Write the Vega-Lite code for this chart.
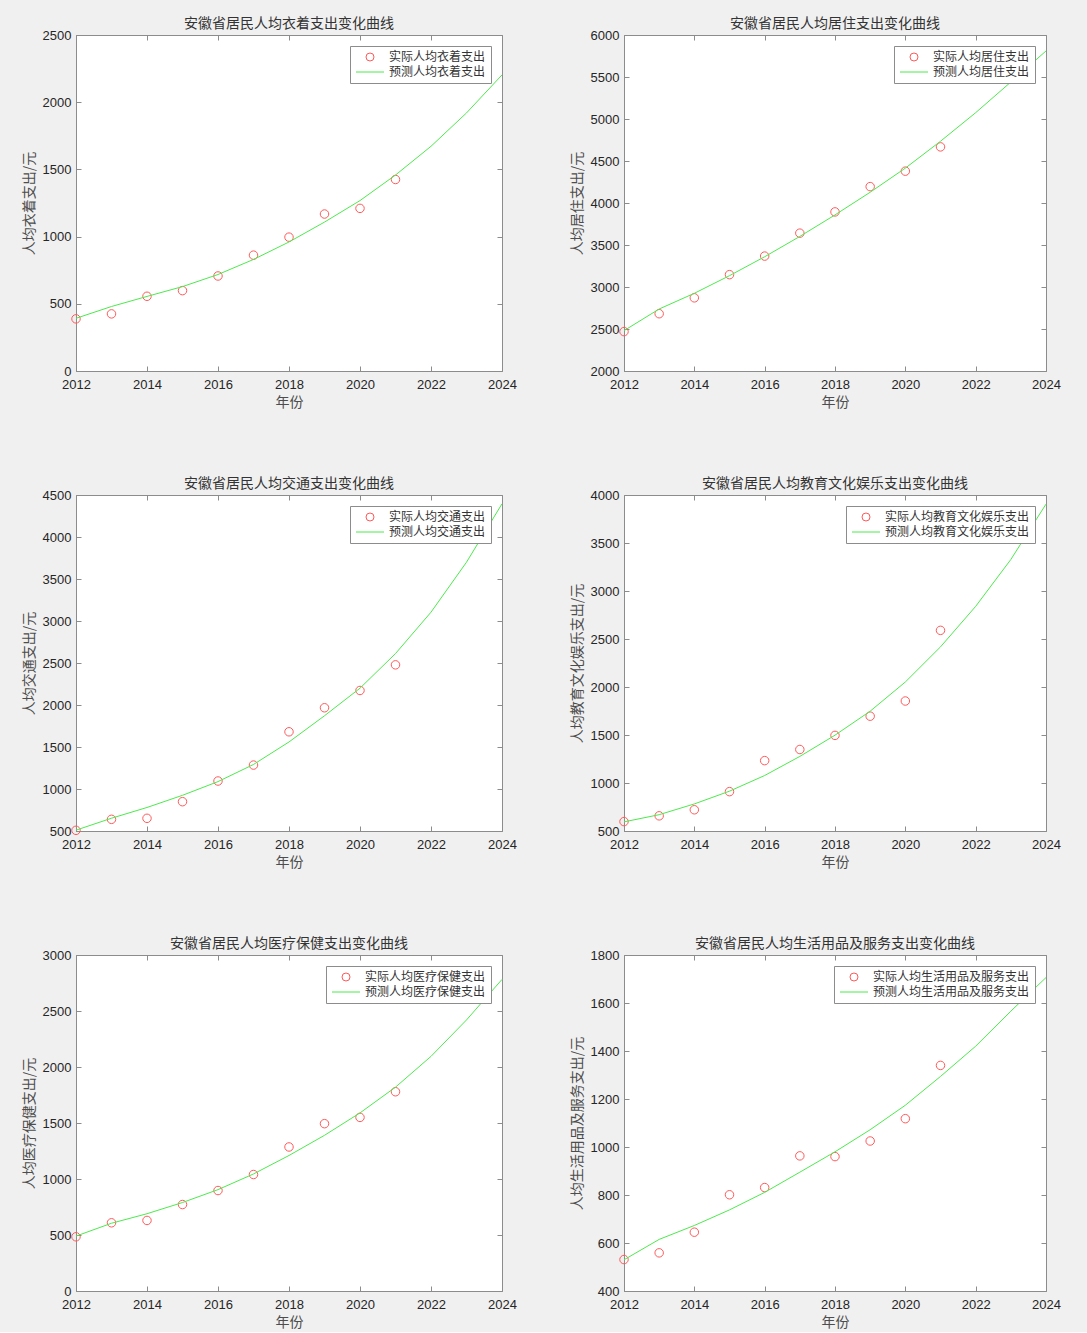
{
  "$schema": "https://vega.github.io/schema/vega-lite/v6.json",
  "autosize": {"type": "pad"},
  "padding": {"left": 21, "top": 16, "right": 40, "bottom": 2},
  "background": "#f0f0f0",
  "datasets": {
    "c1": [
      {"year": 2012, "value": 388, "kind": "actual", "series": "实际人均衣着支出"},
      {"year": 2013, "value": 425, "kind": "actual", "series": "实际人均衣着支出"},
      {"year": 2014, "value": 556, "kind": "actual", "series": "实际人均衣着支出"},
      {"year": 2015, "value": 598, "kind": "actual", "series": "实际人均衣着支出"},
      {"year": 2016, "value": 707, "kind": "actual", "series": "实际人均衣着支出"},
      {"year": 2017, "value": 862, "kind": "actual", "series": "实际人均衣着支出"},
      {"year": 2018, "value": 996, "kind": "actual", "series": "实际人均衣着支出"},
      {"year": 2019, "value": 1168, "kind": "actual", "series": "实际人均衣着支出"},
      {"year": 2020, "value": 1210, "kind": "actual", "series": "实际人均衣着支出"},
      {"year": 2021, "value": 1425, "kind": "actual", "series": "实际人均衣着支出"},
      {"year": 2012, "value": 392, "kind": "pred", "series": "预测人均衣着支出"},
      {"year": 2013, "value": 480, "kind": "pred", "series": "预测人均衣着支出"},
      {"year": 2014, "value": 555, "kind": "pred", "series": "预测人均衣着支出"},
      {"year": 2015, "value": 628, "kind": "pred", "series": "预测人均衣着支出"},
      {"year": 2016, "value": 718, "kind": "pred", "series": "预测人均衣着支出"},
      {"year": 2017, "value": 830, "kind": "pred", "series": "预测人均衣着支出"},
      {"year": 2018, "value": 960, "kind": "pred", "series": "预测人均衣着支出"},
      {"year": 2019, "value": 1108, "kind": "pred", "series": "预测人均衣着支出"},
      {"year": 2020, "value": 1268, "kind": "pred", "series": "预测人均衣着支出"},
      {"year": 2021, "value": 1458, "kind": "pred", "series": "预测人均衣着支出"},
      {"year": 2022, "value": 1672, "kind": "pred", "series": "预测人均衣着支出"},
      {"year": 2023, "value": 1920, "kind": "pred", "series": "预测人均衣着支出"},
      {"year": 2024, "value": 2203, "kind": "pred", "series": "预测人均衣着支出"}
    ],
    "c2": [
      {"year": 2012, "value": 2469, "kind": "actual", "series": "实际人均居住支出"},
      {"year": 2013, "value": 2682, "kind": "actual", "series": "实际人均居住支出"},
      {"year": 2014, "value": 2871, "kind": "actual", "series": "实际人均居住支出"},
      {"year": 2015, "value": 3147, "kind": "actual", "series": "实际人均居住支出"},
      {"year": 2016, "value": 3368, "kind": "actual", "series": "实际人均居住支出"},
      {"year": 2017, "value": 3641, "kind": "actual", "series": "实际人均居住支出"},
      {"year": 2018, "value": 3894, "kind": "actual", "series": "实际人均居住支出"},
      {"year": 2019, "value": 4195, "kind": "actual", "series": "实际人均居住支出"},
      {"year": 2020, "value": 4379, "kind": "actual", "series": "实际人均居住支出"},
      {"year": 2021, "value": 4668, "kind": "actual", "series": "实际人均居住支出"},
      {"year": 2012, "value": 2480, "kind": "pred", "series": "预测人均居住支出"},
      {"year": 2013, "value": 2738, "kind": "pred", "series": "预测人均居住支出"},
      {"year": 2014, "value": 2925, "kind": "pred", "series": "预测人均居住支出"},
      {"year": 2015, "value": 3135, "kind": "pred", "series": "预测人均居住支出"},
      {"year": 2016, "value": 3360, "kind": "pred", "series": "预测人均居住支出"},
      {"year": 2017, "value": 3602, "kind": "pred", "series": "预测人均居住支出"},
      {"year": 2018, "value": 3858, "kind": "pred", "series": "预测人均居住支出"},
      {"year": 2019, "value": 4128, "kind": "pred", "series": "预测人均居住支出"},
      {"year": 2020, "value": 4415, "kind": "pred", "series": "预测人均居住支出"},
      {"year": 2021, "value": 4735, "kind": "pred", "series": "预测人均居住支出"},
      {"year": 2022, "value": 5075, "kind": "pred", "series": "预测人均居住支出"},
      {"year": 2023, "value": 5440, "kind": "pred", "series": "预测人均居住支出"},
      {"year": 2024, "value": 5810, "kind": "pred", "series": "预测人均居住支出"}
    ],
    "c3": [
      {"year": 2012, "value": 508, "kind": "actual", "series": "实际人均交通支出"},
      {"year": 2013, "value": 639, "kind": "actual", "series": "实际人均交通支出"},
      {"year": 2014, "value": 651, "kind": "actual", "series": "实际人均交通支出"},
      {"year": 2015, "value": 849, "kind": "actual", "series": "实际人均交通支出"},
      {"year": 2016, "value": 1095, "kind": "actual", "series": "实际人均交通支出"},
      {"year": 2017, "value": 1285, "kind": "actual", "series": "实际人均交通支出"},
      {"year": 2018, "value": 1681, "kind": "actual", "series": "实际人均交通支出"},
      {"year": 2019, "value": 1967, "kind": "actual", "series": "实际人均交通支出"},
      {"year": 2020, "value": 2173, "kind": "actual", "series": "实际人均交通支出"},
      {"year": 2021, "value": 2478, "kind": "actual", "series": "实际人均交通支出"},
      {"year": 2012, "value": 510, "kind": "pred", "series": "预测人均交通支出"},
      {"year": 2013, "value": 652, "kind": "pred", "series": "预测人均交通支出"},
      {"year": 2014, "value": 780, "kind": "pred", "series": "预测人均交通支出"},
      {"year": 2015, "value": 925, "kind": "pred", "series": "预测人均交通支出"},
      {"year": 2016, "value": 1088, "kind": "pred", "series": "预测人均交通支出"},
      {"year": 2017, "value": 1292, "kind": "pred", "series": "预测人均交通支出"},
      {"year": 2018, "value": 1560, "kind": "pred", "series": "预测人均交通支出"},
      {"year": 2019, "value": 1872, "kind": "pred", "series": "预测人均交通支出"},
      {"year": 2020, "value": 2200, "kind": "pred", "series": "预测人均交通支出"},
      {"year": 2021, "value": 2612, "kind": "pred", "series": "预测人均交通支出"},
      {"year": 2022, "value": 3105, "kind": "pred", "series": "预测人均交通支出"},
      {"year": 2023, "value": 3700, "kind": "pred", "series": "预测人均交通支出"},
      {"year": 2024, "value": 4395, "kind": "pred", "series": "预测人均交通支出"}
    ],
    "c4": [
      {"year": 2012, "value": 598, "kind": "actual", "series": "实际人均教育文化娱乐支出"},
      {"year": 2013, "value": 658, "kind": "actual", "series": "实际人均教育文化娱乐支出"},
      {"year": 2014, "value": 721, "kind": "actual", "series": "实际人均教育文化娱乐支出"},
      {"year": 2015, "value": 910, "kind": "actual", "series": "实际人均教育文化娱乐支出"},
      {"year": 2016, "value": 1233, "kind": "actual", "series": "实际人均教育文化娱乐支出"},
      {"year": 2017, "value": 1349, "kind": "actual", "series": "实际人均教育文化娱乐支出"},
      {"year": 2018, "value": 1496, "kind": "actual", "series": "实际人均教育文化娱乐支出"},
      {"year": 2019, "value": 1696, "kind": "actual", "series": "实际人均教育文化娱乐支出"},
      {"year": 2020, "value": 1854, "kind": "actual", "series": "实际人均教育文化娱乐支出"},
      {"year": 2021, "value": 2590, "kind": "actual", "series": "实际人均教育文化娱乐支出"},
      {"year": 2012, "value": 595, "kind": "pred", "series": "预测人均教育文化娱乐支出"},
      {"year": 2013, "value": 670, "kind": "pred", "series": "预测人均教育文化娱乐支出"},
      {"year": 2014, "value": 782, "kind": "pred", "series": "预测人均教育文化娱乐支出"},
      {"year": 2015, "value": 915, "kind": "pred", "series": "预测人均教育文化娱乐支出"},
      {"year": 2016, "value": 1078, "kind": "pred", "series": "预测人均教育文化娱乐支出"},
      {"year": 2017, "value": 1277, "kind": "pred", "series": "预测人均教育文化娱乐支出"},
      {"year": 2018, "value": 1498, "kind": "pred", "series": "预测人均教育文化娱乐支出"},
      {"year": 2019, "value": 1748, "kind": "pred", "series": "预测人均教育文化娱乐支出"},
      {"year": 2020, "value": 2052, "kind": "pred", "series": "预测人均教育文化娱乐支出"},
      {"year": 2021, "value": 2418, "kind": "pred", "series": "预测人均教育文化娱乐支出"},
      {"year": 2022, "value": 2840, "kind": "pred", "series": "预测人均教育文化娱乐支出"},
      {"year": 2023, "value": 3328, "kind": "pred", "series": "预测人均教育文化娱乐支出"},
      {"year": 2024, "value": 3905, "kind": "pred", "series": "预测人均教育文化娱乐支出"}
    ],
    "c5": [
      {"year": 2012, "value": 484, "kind": "actual", "series": "实际人均医疗保健支出"},
      {"year": 2013, "value": 609, "kind": "actual", "series": "实际人均医疗保健支出"},
      {"year": 2014, "value": 630, "kind": "actual", "series": "实际人均医疗保健支出"},
      {"year": 2015, "value": 772, "kind": "actual", "series": "实际人均医疗保健支出"},
      {"year": 2016, "value": 897, "kind": "actual", "series": "实际人均医疗保健支出"},
      {"year": 2017, "value": 1040, "kind": "actual", "series": "实际人均医疗保健支出"},
      {"year": 2018, "value": 1286, "kind": "actual", "series": "实际人均医疗保健支出"},
      {"year": 2019, "value": 1494, "kind": "actual", "series": "实际人均医疗保健支出"},
      {"year": 2020, "value": 1550, "kind": "actual", "series": "实际人均医疗保健支出"},
      {"year": 2021, "value": 1779, "kind": "actual", "series": "实际人均医疗保健支出"},
      {"year": 2012, "value": 490, "kind": "pred", "series": "预测人均医疗保健支出"},
      {"year": 2013, "value": 605, "kind": "pred", "series": "预测人均医疗保健支出"},
      {"year": 2014, "value": 690, "kind": "pred", "series": "预测人均医疗保健支出"},
      {"year": 2015, "value": 790, "kind": "pred", "series": "预测人均医疗保健支出"},
      {"year": 2016, "value": 905, "kind": "pred", "series": "预测人均医疗保健支出"},
      {"year": 2017, "value": 1045, "kind": "pred", "series": "预测人均医疗保健支出"},
      {"year": 2018, "value": 1210, "kind": "pred", "series": "预测人均医疗保健支出"},
      {"year": 2019, "value": 1390, "kind": "pred", "series": "预测人均医疗保健支出"},
      {"year": 2020, "value": 1590, "kind": "pred", "series": "预测人均医疗保健支出"},
      {"year": 2021, "value": 1820, "kind": "pred", "series": "预测人均医疗保健支出"},
      {"year": 2022, "value": 2095, "kind": "pred", "series": "预测人均医疗保健支出"},
      {"year": 2023, "value": 2420, "kind": "pred", "series": "预测人均医疗保健支出"},
      {"year": 2024, "value": 2782, "kind": "pred", "series": "预测人均医疗保健支出"}
    ],
    "c6": [
      {"year": 2012, "value": 531, "kind": "actual", "series": "实际人均生活用品及服务支出"},
      {"year": 2013, "value": 559, "kind": "actual", "series": "实际人均生活用品及服务支出"},
      {"year": 2014, "value": 645, "kind": "actual", "series": "实际人均生活用品及服务支出"},
      {"year": 2015, "value": 801, "kind": "actual", "series": "实际人均生活用品及服务支出"},
      {"year": 2016, "value": 831, "kind": "actual", "series": "实际人均生活用品及服务支出"},
      {"year": 2017, "value": 963, "kind": "actual", "series": "实际人均生活用品及服务支出"},
      {"year": 2018, "value": 960, "kind": "actual", "series": "实际人均生活用品及服务支出"},
      {"year": 2019, "value": 1025, "kind": "actual", "series": "实际人均生活用品及服务支出"},
      {"year": 2020, "value": 1118, "kind": "actual", "series": "实际人均生活用品及服务支出"},
      {"year": 2021, "value": 1340, "kind": "actual", "series": "实际人均生活用品及服务支出"},
      {"year": 2012, "value": 530, "kind": "pred", "series": "预测人均生活用品及服务支出"},
      {"year": 2013, "value": 615, "kind": "pred", "series": "预测人均生活用品及服务支出"},
      {"year": 2014, "value": 673, "kind": "pred", "series": "预测人均生活用品及服务支出"},
      {"year": 2015, "value": 738, "kind": "pred", "series": "预测人均生活用品及服务支出"},
      {"year": 2016, "value": 811, "kind": "pred", "series": "预测人均生活用品及服务支出"},
      {"year": 2017, "value": 895, "kind": "pred", "series": "预测人均生活用品及服务支出"},
      {"year": 2018, "value": 980, "kind": "pred", "series": "预测人均生活用品及服务支出"},
      {"year": 2019, "value": 1072, "kind": "pred", "series": "预测人均生活用品及服务支出"},
      {"year": 2020, "value": 1174, "kind": "pred", "series": "预测人均生活用品及服务支出"},
      {"year": 2021, "value": 1294, "kind": "pred", "series": "预测人均生活用品及服务支出"},
      {"year": 2022, "value": 1420, "kind": "pred", "series": "预测人均生活用品及服务支出"},
      {"year": 2023, "value": 1566, "kind": "pred", "series": "预测人均生活用品及服务支出"},
      {"year": 2024, "value": 1706, "kind": "pred", "series": "预测人均生活用品及服务支出"}
    ]
  },
  "columns": 2,
  "spacing": {"row": 124, "column": 122},
  "bounds": "flush",
  "resolve": {"scale": {"color": "independent", "shape": "independent"}, "legend": {"color": "independent", "shape": "independent"}},
  "concat": [
    {
      "title": "安徽省居民人均衣着支出变化曲线",
      "width": 426, "height": 336,
      "data": {"name": "c1"},
      "resolve": {"axis": {"x": "independent", "y": "independent"}},
      "layer": [
        {
          "transform": [{"filter": "datum.kind == 'actual'"}],
          "mark": {"type": "point", "filled": false, "size": 72, "strokeWidth": 1, "opacity": 1},
          "encoding": {
            "x": {"field": "year", "type": "quantitative", "scale": {"domain": [2012, 2024], "nice": false, "zero": false}, "axis": {"values": [2012, 2014, 2016, 2018, 2020, 2022, 2024], "format": "d", "title": "年份"}},
            "y": {"field": "value", "type": "quantitative", "scale": {"domain": [0, 2500], "nice": false, "zero": false}, "axis": {"values": [0, 500, 1000, 1500, 2000, 2500], "format": "d", "title": "人均衣着支出/元"}},
            "color": {"field": "series", "type": "nominal", "scale": {"domain": ["实际人均衣着支出", "预测人均衣着支出"], "range": ["#ff5a5a", "#4dea4d"]}, "legend": {"title": null}},
            "shape": {"field": "series", "type": "nominal", "scale": {"domain": ["实际人均衣着支出", "预测人均衣着支出"], "range": ["circle", "M-3.5,0H3.5"]}, "legend": {"title": null}}
          }
        },
        {
          "transform": [{"filter": "datum.kind == 'pred'"}],
          "mark": {"type": "line", "strokeWidth": 1},
          "encoding": {
            "x": {"field": "year", "type": "quantitative", "axis": {"orient": "top", "values": [2012, 2014, 2016, 2018, 2020, 2022, 2024], "labels": false, "title": null, "domain": false}},
            "y": {"field": "value", "type": "quantitative", "axis": {"orient": "right", "values": [0, 500, 1000, 1500, 2000, 2500], "labels": false, "title": null, "domain": false}},
            "color": {"field": "series", "type": "nominal"}
          }
        }
      ]
    },
    {
      "title": "安徽省居民人均居住支出变化曲线",
      "width": 422, "height": 336,
      "data": {"name": "c2"},
      "resolve": {"axis": {"x": "independent", "y": "independent"}},
      "layer": [
        {
          "transform": [{"filter": "datum.kind == 'actual'"}],
          "mark": {"type": "point", "filled": false, "size": 72, "strokeWidth": 1, "opacity": 1},
          "encoding": {
            "x": {"field": "year", "type": "quantitative", "scale": {"domain": [2012, 2024], "nice": false, "zero": false}, "axis": {"values": [2012, 2014, 2016, 2018, 2020, 2022, 2024], "format": "d", "title": "年份"}},
            "y": {"field": "value", "type": "quantitative", "scale": {"domain": [2000, 6000], "nice": false, "zero": false}, "axis": {"values": [2000, 2500, 3000, 3500, 4000, 4500, 5000, 5500, 6000], "format": "d", "title": "人均居住支出/元"}},
            "color": {"field": "series", "type": "nominal", "scale": {"domain": ["实际人均居住支出", "预测人均居住支出"], "range": ["#ff5a5a", "#4dea4d"]}, "legend": {"title": null}},
            "shape": {"field": "series", "type": "nominal", "scale": {"domain": ["实际人均居住支出", "预测人均居住支出"], "range": ["circle", "M-3.5,0H3.5"]}, "legend": {"title": null}}
          }
        },
        {
          "transform": [{"filter": "datum.kind == 'pred'"}],
          "mark": {"type": "line", "strokeWidth": 1},
          "encoding": {
            "x": {"field": "year", "type": "quantitative", "axis": {"orient": "top", "values": [2012, 2014, 2016, 2018, 2020, 2022, 2024], "labels": false, "title": null, "domain": false}},
            "y": {"field": "value", "type": "quantitative", "axis": {"orient": "right", "values": [2000, 2500, 3000, 3500, 4000, 4500, 5000, 5500, 6000], "labels": false, "title": null, "domain": false}},
            "color": {"field": "series", "type": "nominal"}
          }
        }
      ]
    },
    {
      "title": "安徽省居民人均交通支出变化曲线",
      "width": 426, "height": 336,
      "data": {"name": "c3"},
      "resolve": {"axis": {"x": "independent", "y": "independent"}},
      "layer": [
        {
          "transform": [{"filter": "datum.kind == 'actual'"}],
          "mark": {"type": "point", "filled": false, "size": 72, "strokeWidth": 1, "opacity": 1},
          "encoding": {
            "x": {"field": "year", "type": "quantitative", "scale": {"domain": [2012, 2024], "nice": false, "zero": false}, "axis": {"values": [2012, 2014, 2016, 2018, 2020, 2022, 2024], "format": "d", "title": "年份"}},
            "y": {"field": "value", "type": "quantitative", "scale": {"domain": [500, 4500], "nice": false, "zero": false}, "axis": {"values": [500, 1000, 1500, 2000, 2500, 3000, 3500, 4000, 4500], "format": "d", "title": "人均交通支出/元"}},
            "color": {"field": "series", "type": "nominal", "scale": {"domain": ["实际人均交通支出", "预测人均交通支出"], "range": ["#ff5a5a", "#4dea4d"]}, "legend": {"title": null}},
            "shape": {"field": "series", "type": "nominal", "scale": {"domain": ["实际人均交通支出", "预测人均交通支出"], "range": ["circle", "M-3.5,0H3.5"]}, "legend": {"title": null}}
          }
        },
        {
          "transform": [{"filter": "datum.kind == 'pred'"}],
          "mark": {"type": "line", "strokeWidth": 1},
          "encoding": {
            "x": {"field": "year", "type": "quantitative", "axis": {"orient": "top", "values": [2012, 2014, 2016, 2018, 2020, 2022, 2024], "labels": false, "title": null, "domain": false}},
            "y": {"field": "value", "type": "quantitative", "axis": {"orient": "right", "values": [500, 1000, 1500, 2000, 2500, 3000, 3500, 4000, 4500], "labels": false, "title": null, "domain": false}},
            "color": {"field": "series", "type": "nominal"}
          }
        }
      ]
    },
    {
      "title": "安徽省居民人均教育文化娱乐支出变化曲线",
      "width": 422, "height": 336,
      "data": {"name": "c4"},
      "resolve": {"axis": {"x": "independent", "y": "independent"}},
      "layer": [
        {
          "transform": [{"filter": "datum.kind == 'actual'"}],
          "mark": {"type": "point", "filled": false, "size": 72, "strokeWidth": 1, "opacity": 1},
          "encoding": {
            "x": {"field": "year", "type": "quantitative", "scale": {"domain": [2012, 2024], "nice": false, "zero": false}, "axis": {"values": [2012, 2014, 2016, 2018, 2020, 2022, 2024], "format": "d", "title": "年份"}},
            "y": {"field": "value", "type": "quantitative", "scale": {"domain": [500, 4000], "nice": false, "zero": false}, "axis": {"values": [500, 1000, 1500, 2000, 2500, 3000, 3500, 4000], "format": "d", "title": "人均教育文化娱乐支出/元"}},
            "color": {"field": "series", "type": "nominal", "scale": {"domain": ["实际人均教育文化娱乐支出", "预测人均教育文化娱乐支出"], "range": ["#ff5a5a", "#4dea4d"]}, "legend": {"title": null}},
            "shape": {"field": "series", "type": "nominal", "scale": {"domain": ["实际人均教育文化娱乐支出", "预测人均教育文化娱乐支出"], "range": ["circle", "M-3.5,0H3.5"]}, "legend": {"title": null}}
          }
        },
        {
          "transform": [{"filter": "datum.kind == 'pred'"}],
          "mark": {"type": "line", "strokeWidth": 1},
          "encoding": {
            "x": {"field": "year", "type": "quantitative", "axis": {"orient": "top", "values": [2012, 2014, 2016, 2018, 2020, 2022, 2024], "labels": false, "title": null, "domain": false}},
            "y": {"field": "value", "type": "quantitative", "axis": {"orient": "right", "values": [500, 1000, 1500, 2000, 2500, 3000, 3500, 4000], "labels": false, "title": null, "domain": false}},
            "color": {"field": "series", "type": "nominal"}
          }
        }
      ]
    },
    {
      "title": "安徽省居民人均医疗保健支出变化曲线",
      "width": 426, "height": 336,
      "data": {"name": "c5"},
      "resolve": {"axis": {"x": "independent", "y": "independent"}},
      "layer": [
        {
          "transform": [{"filter": "datum.kind == 'actual'"}],
          "mark": {"type": "point", "filled": false, "size": 72, "strokeWidth": 1, "opacity": 1},
          "encoding": {
            "x": {"field": "year", "type": "quantitative", "scale": {"domain": [2012, 2024], "nice": false, "zero": false}, "axis": {"values": [2012, 2014, 2016, 2018, 2020, 2022, 2024], "format": "d", "title": "年份"}},
            "y": {"field": "value", "type": "quantitative", "scale": {"domain": [0, 3000], "nice": false, "zero": false}, "axis": {"values": [0, 500, 1000, 1500, 2000, 2500, 3000], "format": "d", "title": "人均医疗保健支出/元"}},
            "color": {"field": "series", "type": "nominal", "scale": {"domain": ["实际人均医疗保健支出", "预测人均医疗保健支出"], "range": ["#ff5a5a", "#4dea4d"]}, "legend": {"title": null}},
            "shape": {"field": "series", "type": "nominal", "scale": {"domain": ["实际人均医疗保健支出", "预测人均医疗保健支出"], "range": ["circle", "M-3.5,0H3.5"]}, "legend": {"title": null}}
          }
        },
        {
          "transform": [{"filter": "datum.kind == 'pred'"}],
          "mark": {"type": "line", "strokeWidth": 1},
          "encoding": {
            "x": {"field": "year", "type": "quantitative", "axis": {"orient": "top", "values": [2012, 2014, 2016, 2018, 2020, 2022, 2024], "labels": false, "title": null, "domain": false}},
            "y": {"field": "value", "type": "quantitative", "axis": {"orient": "right", "values": [0, 500, 1000, 1500, 2000, 2500, 3000], "labels": false, "title": null, "domain": false}},
            "color": {"field": "series", "type": "nominal"}
          }
        }
      ]
    },
    {
      "title": "安徽省居民人均生活用品及服务支出变化曲线",
      "width": 422, "height": 336,
      "data": {"name": "c6"},
      "resolve": {"axis": {"x": "independent", "y": "independent"}},
      "layer": [
        {
          "transform": [{"filter": "datum.kind == 'actual'"}],
          "mark": {"type": "point", "filled": false, "size": 72, "strokeWidth": 1, "opacity": 1},
          "encoding": {
            "x": {"field": "year", "type": "quantitative", "scale": {"domain": [2012, 2024], "nice": false, "zero": false}, "axis": {"values": [2012, 2014, 2016, 2018, 2020, 2022, 2024], "format": "d", "title": "年份"}},
            "y": {"field": "value", "type": "quantitative", "scale": {"domain": [400, 1800], "nice": false, "zero": false}, "axis": {"values": [400, 600, 800, 1000, 1200, 1400, 1600, 1800], "format": "d", "title": "人均生活用品及服务支出/元"}},
            "color": {"field": "series", "type": "nominal", "scale": {"domain": ["实际人均生活用品及服务支出", "预测人均生活用品及服务支出"], "range": ["#ff5a5a", "#4dea4d"]}, "legend": {"title": null}},
            "shape": {"field": "series", "type": "nominal", "scale": {"domain": ["实际人均生活用品及服务支出", "预测人均生活用品及服务支出"], "range": ["circle", "M-3.5,0H3.5"]}, "legend": {"title": null}}
          }
        },
        {
          "transform": [{"filter": "datum.kind == 'pred'"}],
          "mark": {"type": "line", "strokeWidth": 1},
          "encoding": {
            "x": {"field": "year", "type": "quantitative", "axis": {"orient": "top", "values": [2012, 2014, 2016, 2018, 2020, 2022, 2024], "labels": false, "title": null, "domain": false}},
            "y": {"field": "value", "type": "quantitative", "axis": {"orient": "right", "values": [400, 600, 800, 1000, 1200, 1400, 1600, 1800], "labels": false, "title": null, "domain": false}},
            "color": {"field": "series", "type": "nominal"}
          }
        }
      ]
    }
  ],
  "config": {
    "font": "Noto Sans CJK SC",
    "view": {"fill": "white", "stroke": "#8c8c8c", "strokeWidth": 1},
    "axis": {
      "grid": false,
      "labelFlush": false,
      "domainColor": "#8c8c8c",
      "tickColor": "#8c8c8c",
      "tickSize": -5,
      "labelFont": "Liberation Sans",
      "labelFontSize": 13,
      "labelColor": "#262626",
      "titleFont": "Noto Sans CJK SC",
      "titleFontSize": 14,
      "titleFontWeight": "normal",
      "titleColor": "#4d4d4d"
    },
    "axisX": {"labelPadding": 12, "titlePadding": 4},
    "axisY": {"labelPadding": 10, "titlePadding": 6},
    "title": {"font": "Noto Sans CJK SC", "fontSize": 14, "fontWeight": "normal", "color": "#333333", "offset": -2},
    "legend": {
      "orient": "top-right",
      "offset": 11,
      "fillColor": "white",
      "strokeColor": "#8c8c8c",
      "padding": 5,
      "rowPadding": 3,
      "labelFont": "Noto Sans CJK SC",
      "labelFontSize": 12,
      "labelColor": "#333333",
      "symbolSize": 64,
      "symbolStrokeWidth": 1,
      "symbolOffset": 9,
      "labelOffset": 13
    }
  }
}
